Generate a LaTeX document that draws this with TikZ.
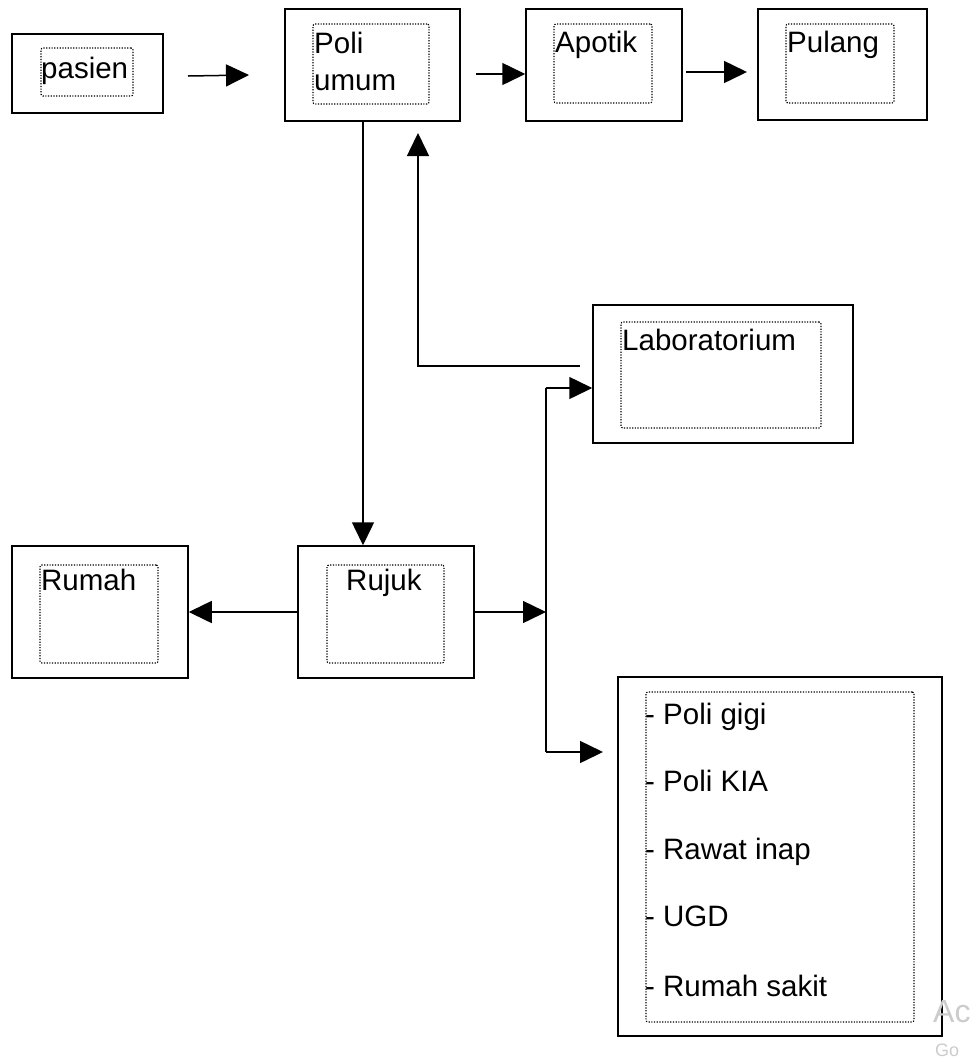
\documentclass[tikz,border=0pt]{standalone}
\usepackage{fontspec}
\setmainfont{Liberation Sans}
\usetikzlibrary{arrows.meta}
\begin{document}
\begin{tikzpicture}[x=1pt,y=-1pt,
  box/.style={draw, line width=1.5pt, inner sep=0pt},
  inbox/.style={draw, line width=1.2pt, dash pattern=on 1.2pt off 1.5pt, rounded corners=2pt, inner sep=0pt},
  txt/.style={anchor=base west, inner sep=0pt, font=\fontsize{29.5}{34}\selectfont},
  conn/.style={line width=1.5pt, -{Triangle[length=23pt,width=22pt]}},
  plainline/.style={line width=1.5pt},
  wm/.style={anchor=base west, inner sep=0pt, text=black!20}]
\useasboundingbox (0,0) rectangle (974,1061);
\fill[white] (0,0) rectangle (974,1061);

% outer boxes
\node[box, minimum width=151pt, minimum height=79pt]  (pasien) at (87.5,73.5) {};
\node[box, minimum width=175pt, minimum height=112pt] (poli)   at (372.5,65) {};
\node[box, minimum width=156pt, minimum height=112pt] (apotik) at (604,65) {};
\node[box, minimum width=169pt, minimum height=111pt] (pulang) at (842.5,64.5) {};
\node[box, minimum width=260pt, minimum height=138pt] (lab)    at (723,374) {};
\node[box, minimum width=176pt, minimum height=132pt] (rumah)  at (100,612) {};
\node[box, minimum width=176pt, minimum height=132pt] (rujuk)  at (386,612) {};
\node[box, minimum width=324pt, minimum height=359pt] (list)   at (780,856.5) {};

% inner dotted boxes
\node[inbox, minimum width=92pt,  minimum height=48pt]  (pasienI) at (87,72) {};
\node[inbox, minimum width=116pt, minimum height=80pt]  (poliI)   at (371,64) {};
\node[inbox, minimum width=98pt,  minimum height=79pt]  (apotikI) at (603,63.5) {};
\node[inbox, minimum width=108pt, minimum height=79pt]  (pulangI) at (840,63.5) {};
\node[inbox, minimum width=200pt, minimum height=106pt] (labI)    at (721,375) {};
\node[inbox, minimum width=118pt, minimum height=98pt]  (rumahI)  at (99,614) {};
\node[inbox, minimum width=117pt, minimum height=98pt]  (rujukI)  at (385.5,614) {};
\node[inbox, minimum width=268pt, minimum height=330pt] (listI)   at (780,857) {};

% texts
\node[txt] (tPasien) at (41,78) {pasien};
\node[txt] (tPoli1)  at (314,53) {Poli};
\node[txt] (tPoli2)  at (314,90) {umum};
\node[txt] (tApotik) at (555,52) {Apotik};
\node[txt] (tPulang) at (787,52) {Pulang};
\node[txt] (tLab)    at (622,350) {Laboratorium};
\node[txt] (tRumah)  at (41,590) {Rumah};
\node[txt] (tRujuk)  at (346,590) {Rujuk};
\node[txt] (tL1) at (645,724) {- Poli gigi};
\node[txt] (tL2) at (645,791) {- Poli KIA};
\node[txt] (tL3) at (645,859) {- Rawat inap};
\node[txt] (tL4) at (645,926) {- UGD};
\node[txt] (tL5) at (645,996) {- Rumah sakit};

% watermark fragments
\node[wm, font=\fontsize{32}{36}\selectfont] (wm1) at (933,1022) {Ac};
\node[wm, font=\fontsize{18}{22}\selectfont] (wm2) at (935,1056) {Go};

% connectors
\coordinate (a1s) at (188,76);
\coordinate (a1e) at (249,75);
\draw[conn] (a1s) -- (a1e);
\coordinate (a2s) at (476,74);
\draw[conn] (a2s) -- (apotik.west |- a2s);
\coordinate (a3s) at (686,72);
\coordinate (a3e) at (747,72);
\draw[conn] (a3s) -- (a3e);
\coordinate (dx) at (363,0);
\draw[conn] (poli.south -| dx) -- (rujuk.north -| dx);
\coordinate (ls) at (580,366);
\coordinate (lc) at (418,366);
\coordinate (le) at (418,133);
\draw[conn] (ls) -- (lc) -- (le);
\coordinate (br) at (546,612);
\coordinate (bt) at (546,388);
\coordinate (bb) at (546,752);
\coordinate (bbe) at (603,752);
\draw[conn] (rujuk.east) -- (br);
\draw[plainline] (bt) -- (bb);
\draw[conn] (bt) -- (lab.west |- bt);
\draw[conn] (bb) -- (bbe);
\draw[conn] (rujuk.west) -- (rumah.east);
\end{tikzpicture}
\end{document}
